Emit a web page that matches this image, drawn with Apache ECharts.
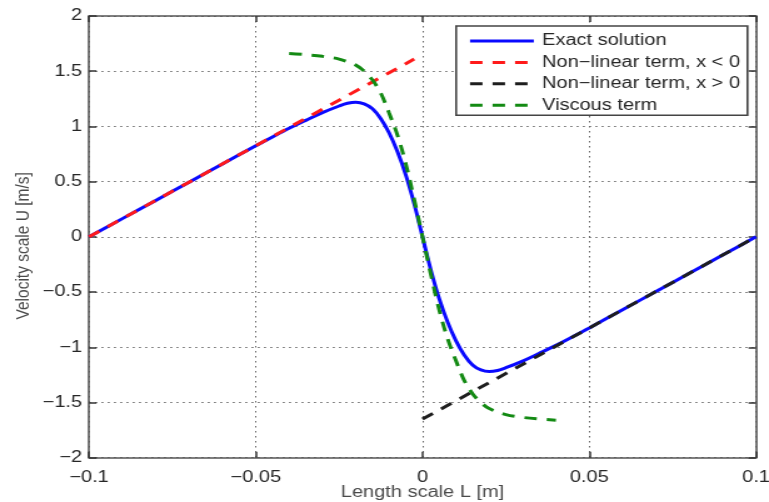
<!DOCTYPE html>
<html>
<head>
<meta charset="utf-8">
<script src="https://cdn.jsdelivr.net/npm/echarts@6/dist/echarts.min.js"></script>
<style>
  html, body { margin: 0; padding: 0; background: #fff; overflow: hidden; }
  #wrap { width: 769px; height: 502px; overflow: hidden; background: #fff; }
  /* the figure is laid out on a 615px canvas and widened to the 769px frame */
  #chart { width: 615px; height: 502px; transform: scaleX(1.2504); transform-origin: 0 0; }
</style>
</head>
<body>
<div id="wrap"><div id="chart"></div></div>
<script>
// Length scale L [m] and velocity scale U [m/s] samples
const xExact = [-0.1, -0.09, -0.08, -0.07, -0.06, -0.05, -0.045, -0.04, -0.035, -0.03, -0.025, -0.0225, -0.02, -0.0175, -0.015, -0.0125, -0.01, -0.0075, -0.005, -0.0025, 0,
                0.0025, 0.005, 0.0075, 0.01, 0.0125, 0.015, 0.0175, 0.02, 0.0225, 0.025, 0.03, 0.035, 0.04, 0.045, 0.05, 0.06, 0.07, 0.08, 0.09, 0.1];
const uExact = [0, 0.165, 0.33, 0.495, 0.66, 0.825, 0.905, 0.983, 1.055, 1.125, 1.185, 1.21, 1.22, 1.205, 1.16, 1.07, 0.94, 0.77, 0.56, 0.30, 0,
                -0.30, -0.56, -0.77, -0.94, -1.07, -1.16, -1.205, -1.22, -1.21, -1.185, -1.125, -1.055, -0.983, -0.905, -0.825, -0.66, -0.495, -0.33, -0.165, 0];

const xNonLinNeg = [-0.1, -0.0025];
const uNonLinNeg = [0, 1.61];

const xNonLinPos = [0, 0.1];
const uNonLinPos = [-1.65, 0];

const xViscous = [-0.04, -0.035, -0.03, -0.025, -0.02, -0.0175, -0.015, -0.0125, -0.01, -0.0075, -0.005, -0.0025, 0,
                  0.0025, 0.005, 0.0075, 0.01, 0.0125, 0.015, 0.0175, 0.02, 0.025, 0.03, 0.035, 0.04];
const uViscous = [1.66, 1.65, 1.635, 1.61, 1.555, 1.50, 1.42, 1.30, 1.12, 0.92, 0.66, 0.34, 0,
                  -0.34, -0.66, -0.92, -1.12, -1.30, -1.42, -1.50, -1.555, -1.61, -1.635, -1.65, -1.66];

const xTicks = [-0.1, -0.05, 0, 0.05, 0.1];
const yTicks = [-2, -1.5, -1, -0.5, 0, 0.5, 1, 1.5, 2];

const seriesNames = ['Exact solution', 'Non\u2212linear term, x < 0', 'Non\u2212linear term, x > 0', 'Viscous term'];

const pairs = (xs, ys) => xs.map((x, i) => [x, ys[i]]);
const fmt = v => String(+v.toFixed(4)).replace('-', '\u2212');

const FONT = '"Liberation Sans", Arial, Helvetica, sans-serif';
const TEXT_COLOR = '#262626';
const AXIS_COLOR = '#555';
const TICK = { show: true, inside: true, length: 6, lineStyle: { color: '#333', width: 1.5 } };
const AXIS_LINE = { show: true, onZero: false, lineStyle: { color: AXIS_COLOR, width: 1.6 } };
const gridDots = { show: true, lineStyle: { color: '#666', width: 1, type: [1.5, 3.5] } };

const chart = echarts.init(document.getElementById('chart'), null, { renderer: 'canvas' });

const dashed = (color) => ({ color: color, width: 3, type: [10, 8] });

chart.setOption({
  animation: false,
  backgroundColor: '#fff',
  grid: { left: 71.2, right: 10.4, top: 16, bottom: 44.3, containLabel: false, outerBoundsMode: 'none' },
  legend: {
    left: 364.8, top: 26,
    orient: 'vertical',
    padding: [7, 6, 2, 9.6],
    itemWidth: 51, itemHeight: 16, itemGap: 5.4,
    backgroundColor: '#fff',
    borderColor: '#444', borderWidth: 1.6,
    itemStyle: { color: 'rgba(0,0,0,0)', borderWidth: 0, opacity: 0 },
    lineStyle: { width: 3 },
    textStyle: { fontFamily: FONT, fontSize: 16, color: TEXT_COLOR, padding: [0, 0, 0, 1.6] },
    data: seriesNames
  },
  xAxis: [{
    type: 'value', min: xTicks[0], max: xTicks[xTicks.length - 1], interval: 0.05,
    axisLine: AXIS_LINE, axisTick: TICK,
    axisLabel: { fontFamily: FONT, fontSize: 16, color: TEXT_COLOR, margin: 12, formatter: fmt },
    splitLine: gridDots,
    name: 'Length scale L [m]', nameLocation: 'middle', nameGap: 26.5, nameMoveOverlap: false,
    nameTextStyle: { fontFamily: FONT, fontSize: 16, color: '#4a4a4a' }
  }, {
    type: 'value', min: xTicks[0], max: xTicks[xTicks.length - 1], interval: 0.05, position: 'top',
    axisLine: AXIS_LINE, axisTick: TICK,
    axisLabel: { show: false }, splitLine: { show: false }
  }],
  yAxis: [{
    type: 'value', min: yTicks[0], max: yTicks[yTicks.length - 1], interval: 0.5,
    axisLine: AXIS_LINE, axisTick: TICK,
    axisLabel: { fontFamily: FONT, fontSize: 16, color: TEXT_COLOR, margin: 5.5, formatter: fmt, padding: [4, 0, 0, 0] },
    splitLine: gridDots,
    name: 'Velocity scale U [m/s]', nameLocation: 'middle', nameGap: 44, nameMoveOverlap: false,
    nameTextStyle: { fontFamily: FONT, fontSize: 15.5, color: '#4a4a4a', padding: [0, 18, 0, 0] }
  }, {
    type: 'value', min: yTicks[0], max: yTicks[yTicks.length - 1], interval: 0.5, position: 'right',
    axisLine: AXIS_LINE, axisTick: TICK,
    axisLabel: { show: false }, splitLine: { show: false }
  }],
  series: [{
    name: seriesNames[0], type: 'line', data: pairs(xExact, uExact),
    showSymbol: false, symbol: 'none', smooth: 0.35, z: 2,
    lineStyle: { color: '#0a0aff', width: 3 }, itemStyle: { color: '#0a0aff' }
  }, {
    name: seriesNames[1], type: 'line', data: pairs(xNonLinNeg, uNonLinNeg),
    showSymbol: false, symbol: 'none', z: 3,
    lineStyle: dashed('#ff1a1a'), itemStyle: { color: '#ff1a1a' }
  }, {
    name: seriesNames[2], type: 'line', data: pairs(xNonLinPos, uNonLinPos),
    showSymbol: false, symbol: 'none', z: 3,
    lineStyle: dashed('#1e1e1e'), itemStyle: { color: '#1e1e1e' }
  }, {
    name: seriesNames[3], type: 'line', data: pairs(xViscous, uViscous),
    showSymbol: false, symbol: 'none', smooth: 0.35, z: 4,
    lineStyle: dashed('#138a13'), itemStyle: { color: '#138a13' }
  }]
});
</script>
</body>
</html>
